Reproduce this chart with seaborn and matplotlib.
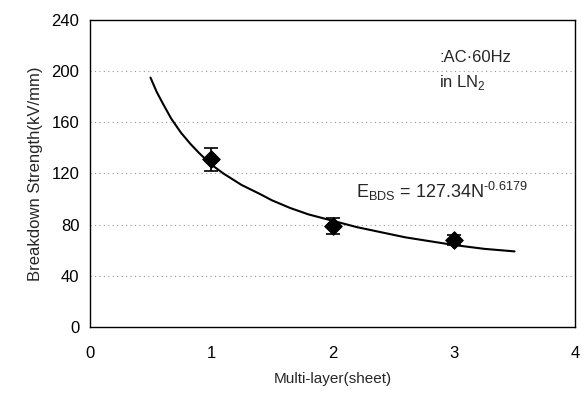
import numpy as np
import pandas as pd
import matplotlib
matplotlib.use("Agg")
import matplotlib.pyplot as plt
import seaborn as sns

# measured points
layers = [1, 2, 3]
strength = [131, 79, 68]
strength_err = [9, 6, 4]

# fitted curve
fit_x = [0.5, 0.55, 0.6, 0.67, 0.75, 0.83, 0.9, 1.0, 1.1, 1.25, 1.4, 1.5, 1.65, 1.8,
         2.0, 2.2, 2.4, 2.6, 2.8, 3.0, 3.25, 3.5]
fit_y = [195, 184, 175, 163, 152, 143, 136, 127, 120, 111, 104, 99, 93, 88,
         83, 78, 74, 70, 67, 64, 61, 59]

sns.set_style("white")
plt.rcParams['font.family'] = ['Liberation Sans', 'DejaVu Sans']
plt.rcParams['mathtext.fontset'] = 'custom'
plt.rcParams['mathtext.rm'] = 'Liberation Sans'

fig = plt.figure(figsize=(5.87, 4.01), dpi=100)
ax = fig.add_axes([0.153, 0.185, 0.827, 0.765])

df_fit = pd.DataFrame({'x': fit_x, 'y': fit_y})
sns.lineplot(data=df_fit, x='x', y='y', color='black', linewidth=1.5, ax=ax)

df = pd.DataFrame({'layer': layers, 'bds': strength})
ax.errorbar(layers, strength, yerr=strength_err, fmt='none', ecolor='black',
            elinewidth=1.2, capsize=5, capthick=1.2, zorder=3)
sns.scatterplot(data=df, x='layer', y='bds', marker='D', s=80, color='black',
                edgecolor='black', ax=ax, zorder=4)

ax.set_xlim(0, 4)
ax.set_ylim(0, 240)
ax.set_xticks([0, 1, 2, 3, 4])
ax.set_yticks(np.arange(0, 241, 40))
for yv in [40, 80, 120, 160, 200]:
    ax.axhline(yv, color='#999999', linestyle=(0, (1, 3)), linewidth=0.8, zorder=0)

for s in ax.spines.values():
    s.set_color('black')
    s.set_linewidth(1.0)
ax.tick_params(axis='both', labelsize=12, colors='black', length=4, direction='out')
ax.tick_params(axis='x', pad=10)

ax.set_xlabel('Multi-layer(sheet)', fontsize=11, labelpad=8)
ax.set_ylabel('Breakdown Strength(kV/mm)', fontsize=12, labelpad=6)

ax.text(2.88, 211, ':AC·60Hz', fontsize=12, ha='left', va='center')
ax.text(2.88, 191, r'in LN$_{\text{2}}$', fontsize=12, ha='left', va='center')
ax.text(2.19, 106, r'E$_{\text{BDS}}$ = 127.34N$^{\text{-0.6179}}$', fontsize=13,
        ha='left', va='center')

fig.savefig('out.png', dpi=100)
